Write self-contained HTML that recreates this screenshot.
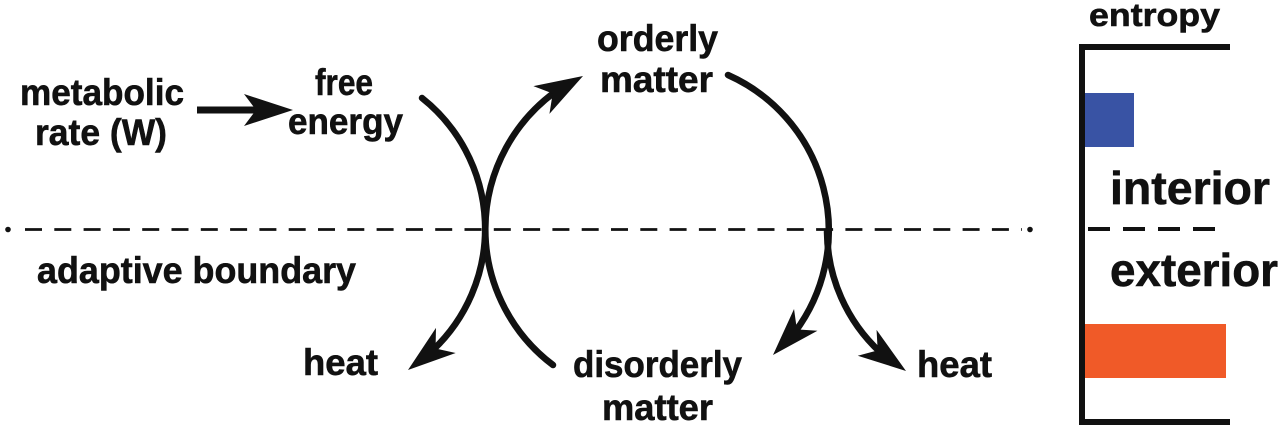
<!DOCTYPE html>
<html>
<head>
<meta charset="utf-8">
<style>
  html, body { margin: 0; padding: 0; background: #ffffff; }
  body { width: 1280px; height: 431px; overflow: hidden; }
  svg { display: block; }
  text { font-family: "Liberation Sans", "DejaVu Sans", sans-serif; font-weight: bold; fill: #111111; stroke: #111111; stroke-width: 0.6; }
</style>
</head>
<body>
<svg width="1280" height="431" viewBox="0 0 1280 431" xmlns="http://www.w3.org/2000/svg">
  <defs>
    <polygon id="head" points="0,0 -48,-16 -35,0 -48,16" fill="#111111"/>
  </defs>

  <!-- Labels -->
  <text x="20" y="105" font-size="37" textLength="164" lengthAdjust="spacingAndGlyphs">metabolic</text>
  <text x="35" y="145" font-size="37" textLength="132" lengthAdjust="spacingAndGlyphs">rate (W)</text>

  <text x="315" y="95" font-size="37" textLength="58" lengthAdjust="spacingAndGlyphs">free</text>
  <text x="288" y="134" font-size="37" textLength="115" lengthAdjust="spacingAndGlyphs">energy</text>

  <text x="597" y="51" font-size="37" textLength="121" lengthAdjust="spacingAndGlyphs">orderly</text>
  <text x="600" y="92" font-size="37" textLength="113" lengthAdjust="spacingAndGlyphs">matter</text>

  <text x="37" y="283" font-size="37" textLength="319" lengthAdjust="spacingAndGlyphs">adaptive boundary</text>

  <text x="303" y="375" font-size="37" textLength="75" lengthAdjust="spacingAndGlyphs">heat</text>

  <text x="573" y="377" font-size="37" textLength="169" lengthAdjust="spacingAndGlyphs">disorderly</text>
  <text x="602" y="420" font-size="37" textLength="111" lengthAdjust="spacingAndGlyphs">matter</text>

  <text x="917" y="377" font-size="37" textLength="75" lengthAdjust="spacingAndGlyphs">heat</text>

  <text x="1089" y="26" font-size="32" textLength="131" lengthAdjust="spacingAndGlyphs">entropy</text>
  <text x="1110" y="204" font-size="46" textLength="160" lengthAdjust="spacingAndGlyphs">interior</text>
  <text x="1110" y="286" font-size="46" textLength="168" lengthAdjust="spacingAndGlyphs">exterior</text>

  <!-- Metabolic arrow -->
  <line x1="197" y1="110" x2="260" y2="110" stroke="#111111" stroke-width="7"/>
  <polygon points="293,110 244,94 256,110 244,126" fill="#111111"/>

  <!-- Adaptive boundary dashed line -->
  <circle cx="8" cy="229.5" r="2.8" fill="#111111"/>
  <line x1="25" y1="229.5" x2="1022" y2="229.5" stroke="#111111" stroke-width="2.8" stroke-dasharray="17 12.3"/>
  <circle cx="1030" cy="229.5" r="2.8" fill="#111111"/>

  <!-- Arcs -->
  <g fill="none" stroke="#111111" stroke-width="6.5" stroke-linecap="round">
    <path d="M422,98 A167,167 0 0 1 433,350"/>
    <path d="M553,365 A170,170 0 0 1 555,92"/>
    <path d="M728,75 A170,170 0 0 1 795,332"/>
    <path d="M827,232 A166,166 0 0 0 880,352"/>
  </g>

  <!-- Arrowheads -->
  <use href="#head" transform="translate(408,370) rotate(142)"/>
  <use href="#head" transform="translate(583,76) rotate(-30)"/>
  <use href="#head" transform="translate(773,355) rotate(133)"/>
  <use href="#head" transform="translate(906,371) rotate(36)"/>

  <!-- Entropy panel -->
  <path d="M1230,47 H1082 V422 H1230" fill="none" stroke="#111111" stroke-width="6"/>
  <rect x="1085" y="93" width="49" height="54" fill="#3953a4"/>
  <rect x="1085" y="324" width="141" height="54" fill="#f05a28"/>
  <line x1="1088" y1="229" x2="1217" y2="229" stroke="#111111" stroke-width="4" stroke-dasharray="22 13"/>
</svg>
</body>
</html>
